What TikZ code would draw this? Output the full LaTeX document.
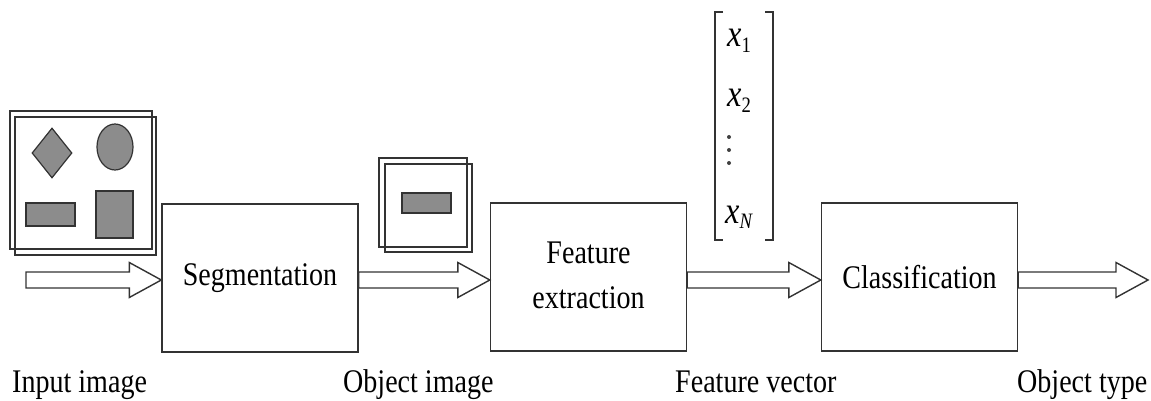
\documentclass[tikz,border=0pt]{standalone}
\usepackage{fontspec}
\setmainfont{Liberation Serif}
\usetikzlibrary{calc,shapes.geometric}
\newcommand{\nrw}[1]{\scalebox{0.85}[1]{#1}}
\tikzset{
  ln/.style={draw=black!80, line width=1.4pt},
  procbox/.style={ln, fill=white, minimum width=196pt, minimum height=148pt, inner sep=0pt,
     font=\fontsize{33}{45}\selectfont},
  lab/.style={anchor=base west, inner sep=0pt, font=\fontsize{33}{40}\selectfont},
  frame/.style={ln, line width=1.2pt},
  shp/.style={draw=black!80, line width=1.2pt, fill=black!45},
  vec/.style={inner sep=0pt, anchor=base west, font=\fontsize{38}{40}\selectfont\itshape},
  fatarrow/.style={ln, fill=white, line join=miter, to path={
     let \p1=(\tikztostart), \p2=(\tikztotarget) in
     (\x1,\y1+8pt) -- (\x2-32pt,\y1+8pt) -- (\x2-32pt,\y1+17.5pt) -- (\x2,\y1)
     -- (\x2-32pt,\y1-17.5pt) -- (\x2-32pt,\y1-8pt) -- (\x1,\y1-8pt) -- cycle}}
}
\begin{document}
\begin{tikzpicture}[x=1pt,y=-1pt]
\useasboundingbox (0,0) rectangle (1151,401);
% processing boxes
\node[procbox] (seg) at (260,278) {\nrw{Segmentation}};
\node[procbox] (fe) at (588.5,277) {\raisebox{-8pt}{\nrw{\begin{tabular}{@{}c@{}}Feature\\extraction\end{tabular}}}};
\node[procbox] (cls) at (919.5,277) {\nrw{Classification}};
% input image frames
\draw[frame] (10,111) rectangle (152,249);
\draw[frame] (15,117) rectangle (156,255);
\node[shp, diamond, minimum width=40pt, minimum height=50pt, inner sep=0pt] (dia) at (52,153) {};
\node[shp, ellipse, minimum width=36pt, minimum height=46pt, inner sep=0pt] (circ) at (115,147) {};
\node[shp, rectangle, minimum width=49pt, minimum height=23pt, inner sep=0pt] (r1) at (50.5,214.5) {};
\node[shp, rectangle, minimum width=37pt, minimum height=47pt, inner sep=0pt] (sq) at (114.5,214.5) {};
% object image frames
\draw[frame] (379,158) rectangle (467,247);
\draw[frame] (385,164) rectangle (472,252);
\node[shp, rectangle, minimum width=49pt, minimum height=20pt, inner sep=0pt] (r2) at (426.5,203) {};
% feature vector
\draw[ln, line width=1.2pt] (723,12) -- (715,12) -- (715,240) -- (723,240);
\draw[ln, line width=1.2pt] (765,12) -- (773,12) -- (773,240) -- (765,240);
\node[vec] (x1) at (727,47) {\nrw{x\textsubscript{\upshape\fontsize{22}{22}\selectfont 1}}};
\node[vec] (x2) at (727,107) {\nrw{x\textsubscript{\upshape\fontsize{22}{22}\selectfont 2}}};
\foreach \yy in {137,150,163} \fill[black!75] (729,\yy) circle (2pt);
\node[vec] (xn) at (725,223) {\nrw{x\textsubscript{\fontsize{22}{22}\selectfont N}}};
% arrows
\coordinate (in) at (26,280);
\coordinate (out) at (1148,280);
\draw[fatarrow] (in) to (seg.west);
\draw[fatarrow] (seg.east |- in) to (fe.west);
\draw[fatarrow] (fe.east |- in) to (cls.west);
\draw[fatarrow] (cls.east |- in) to (out);
% labels
\node[lab] (l1) at (12,392) {\nrw{Input image}};
\node[lab] (l2) at (343,392) {\nrw{Object image}};
\node[lab] (l3) at (675,392) {\nrw{Feature vector}};
\node[lab] (l4) at (1017,392) {\nrw{Object type}};
\end{tikzpicture}
\end{document}
